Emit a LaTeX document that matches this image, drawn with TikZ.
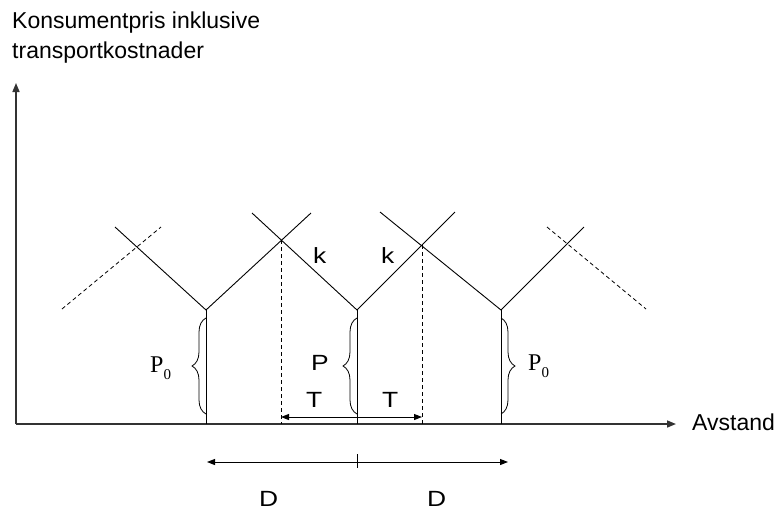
\documentclass[tikz,border=0pt]{standalone}
\usepackage{fontspec}
\setmainfont{Liberation Sans}
\newfontfamily\serifface{Liberation Serif}
\usetikzlibrary{arrows.meta,decorations.pathreplacing}

% slightly wide letters for the short labels
\newcommand{\widelbl}[1]{\scalebox{1.2}[1]{#1}}

\begin{document}
\begin{tikzpicture}[x=1pt,y=-1pt,
  axis/.style={line width=1.6pt, draw=black!80, -{Triangle[length=9pt,width=7pt]}},
  curve/.style={line width=0.9pt},
  guide/.style={line width=0.8pt, dash pattern=on 4pt off 3pt},
  dim/.style={line width=1pt, {Triangle[length=8pt,width=6pt]}-{Triangle[length=8pt,width=6pt]}},
  lbl/.style={font=\fontsize{22}{26}\selectfont, inner sep=0pt, anchor=base west},
  sublbl/.style={font=\serifface\fontsize{24}{28}\selectfont, inner sep=0pt, anchor=base west},
  bracket/.style={decorate, decoration={brace, amplitude=14pt}, line width=0.8pt},
]
\useasboundingbox (0,0) rectangle (780,512);

% axes
\coordinate (O) at (16,424);
\coordinate (ytip) at (16,83);
\coordinate (xtip) at (676,424);
\draw[axis] (O) -- (ytip);
\draw[axis] (O) -- (xtip);

% price minima of the three firms
\coordinate (vL) at (206,310);
\coordinate (vC) at (357,310);
\coordinate (vR) at (501,310);
\coordinate (fL) at (206,424);
\coordinate (fC) at (357,424);
\coordinate (fR) at (501,424);

% arm end points
\coordinate (aL1) at (115,227);
\coordinate (aL2) at (311,213);
\coordinate (aC1) at (252,213);
\coordinate (aC2) at (455,212);
\coordinate (aR1) at (380,212);
\coordinate (aR2) at (584,227);

% price lines
\draw[curve] (aL1) -- (vL) -- (aL2);
\draw[curve] (aC1) -- (vC) -- (aC2);
\draw[curve] (aR1) -- (vR) -- (aR2);

% neighbouring firms outside the picture
\coordinate (dL1) at (62,309);
\coordinate (dL2) at (161,227);
\coordinate (dR1) at (547,227);
\coordinate (dR2) at (646,309);
\draw[guide] (dL1) -- (dL2);
\draw[guide] (dR1) -- (dR2);

% market boundaries
\coordinate (xL) at (281,240);
\coordinate (xR) at (422,245);
\coordinate (xLb) at (281,424);
\coordinate (xRb) at (422,424);
\draw[guide] (xL) -- (xLb);
\draw[guide] (xR) -- (xRb);

% verticals under each firm
\draw[curve] (vL) -- (fL);
\draw[curve] (vC) -- (fC);
\draw[curve] (vR) -- (fR);

% braces for mill prices
\draw[bracket] (206,414) -- (206,318);
\draw[bracket] (357,414) -- (357,318);
\draw[bracket] (501,318) -- (501,414);

% transport distance T
\coordinate (tL) at (281,417);
\coordinate (tR) at (422,417);
\draw[dim] (tL) -- (tR);

% distance D between firms
\coordinate (dA) at (207,462);
\coordinate (dB) at (508,462);
\coordinate (dT1) at (357,454);
\coordinate (dT2) at (357,468);
\draw[dim] (dA) -- (dB);
\draw[line width=0.8pt] (dT1) -- (dT2);

% labels
\node[lbl, font=\fontsize{23}{27}\selectfont] (title1) at (12,28.5) {Konsumentpris inklusive};
\node[lbl, font=\fontsize{23}{27}\selectfont] (title2) at (12,58) {transportkostnader};
\node[lbl, font=\fontsize{23}{27}\selectfont] (avst) at (692,430) {Avstand};
\node[lbl] (k1) at (313,263) {\widelbl{k}};
\node[lbl] (k2) at (381,263) {\widelbl{k}};
\node[lbl] (p) at (311,370) {\widelbl{P}};
\node[lbl] (t1) at (306,407) {\widelbl{T}};
\node[lbl] (t2) at (382,407) {\widelbl{T}};
\node[lbl] (d1) at (259,506) {\widelbl{D}};
\node[lbl] (d2) at (427,506) {\widelbl{D}};
\node[sublbl] (p0l) at (150,372) {P\raisebox{-7pt}{\fontsize{15}{15}\selectfont 0}};
\node[sublbl] (p0r) at (528,370) {P\raisebox{-7pt}{\fontsize{15}{15}\selectfont 0}};
\end{tikzpicture}
\end{document}
